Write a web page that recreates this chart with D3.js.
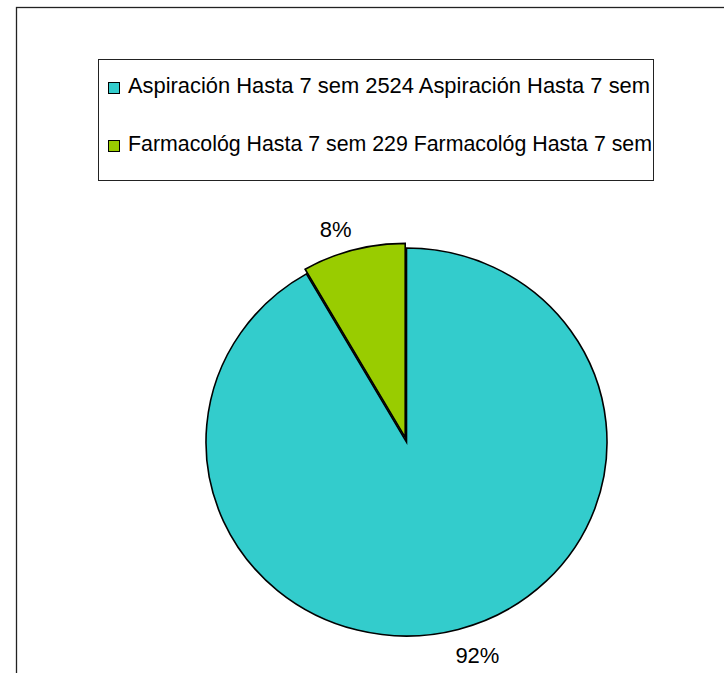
<!DOCTYPE html>
<html>
<head>
<meta charset="utf-8">
<script src="https://cdn.jsdelivr.net/npm/d3@7/dist/d3.min.js"></script>
<style>
	html, body { margin: 0; padding: 0; background: #fff; }
	svg { display: block; font-family: Arial, 'Liberation Sans', sans-serif; }
</style>
</head>
<body>
<script>
var categories = ['Aspiración Hasta 7 sem', 'Farmacológ Hasta 7 sem']
var values = [2524, 229]
var colors = ['#33CCCC', '#99CC00']
var exploded = [0, 5]

var W = 724, H = 673
var cx = 406.5, cy = 442
var rx = 200.5, ry = 194

var svg = d3.select('body').append('svg')
	.attr('width', W)
	.attr('height', H)

// outer chart frame (runs off the right and bottom edges)
svg.append('rect')
	.attr('x', 16.5).attr('y', 7.5)
	.attr('width', 730).attr('height', 690)
	.style('fill', 'none')
	.style('stroke', '#222')
	.style('stroke-width', 1.3)

// legend
var legend = svg.append('g').attr('class', 'legend')
legend.append('rect')
	.attr('x', 98.5).attr('y', 59.5)
	.attr('width', 555).attr('height', 121)
	.style('fill', '#fff')
	.style('stroke', '#222')
	.style('stroke-width', 1)

var rows = legend.selectAll('g.row').data(categories)
	.enter().append('g').attr('class', 'row')
	.attr('transform', (d, i) => 'translate(108,' + (82 + i * 58) + ')')
rows.append('rect')
	.attr('x', 0.5).attr('y', 0.5)
	.attr('width', 11).attr('height', 11)
	.style('fill', (d, i) => colors[i])
	.style('stroke', '#000')
	.style('stroke-width', 1)
rows.append('text')
	.attr('x', 20).attr('y', 11)
	.style('font-size', '21.5px')
	.style('fill', '#000')
	.attr('textLength', (d, i) => i == 0 ? 522 : 524)
	.attr('lengthAdjust', 'spacingAndGlyphs')
	.text((d, i) => d + ' ' + values[i] + ' ' + d)

// pie
var total = d3.sum(values)
var arcs = d3.pie().sortValues(null)(values)
var arc = d3.arc().innerRadius(0).outerRadius(rx)
var labelArc = d3.arc().innerRadius(228).outerRadius(228)

var pie = svg.append('g')
	.attr('transform', 'translate(' + cx + ',' + cy + ') scale(1,' + (ry / rx) + ')')

pie.selectAll('path').data(arcs)
	.enter().append('path')
	.attr('d', arc)
	.attr('transform', (d, i) => {
		var a = (d.startAngle + d.endAngle) / 2
		return 'translate(' + (Math.sin(a) * exploded[i]) + ',' + (-Math.cos(a) * exploded[i]) + ')'
	})
	.style('fill', (d, i) => colors[i])
	.style('stroke', '#000')
	.style('stroke-width', 1.6)
	.attr('vector-effect', 'non-scaling-stroke')

svg.append('g').selectAll('text').data(arcs)
	.enter().append('text')
	.attr('x', d => {
		var c = labelArc.centroid(d)
		return cx + c[0] + (c[0] < 0 ? -12 : 12)
	})
	.attr('y', d => cy + labelArc.centroid(d)[1] * ry / rx)
	.attr('dy', '0.35em')
	.attr('text-anchor', 'middle')
	.style('font-size', '22px')
	.style('fill', '#000')
	.text(d => Math.round(d.value * 100 / total) + '%')
</script>
</body>
</html>
